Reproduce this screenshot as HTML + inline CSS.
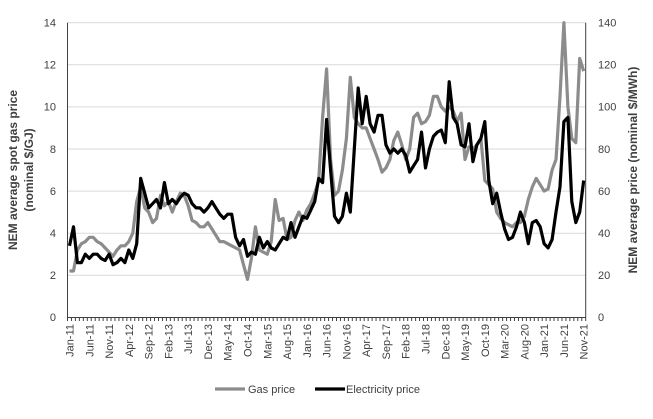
<!DOCTYPE html>
<html><head><style>
body{margin:0;background:#fff}
svg text{font-family:"Liberation Sans",sans-serif;fill:#404040}
</style></head><body>
<svg id="c" width="653" height="414" xmlns="http://www.w3.org/2000/svg">
<g stroke="#d9d9d9" stroke-width="1">
<line x1="68" x2="586" y1="22.7" y2="22.7"/><line x1="68" x2="586" y1="64.8" y2="64.8"/>
<line x1="68" x2="586" y1="106.9" y2="106.9"/><line x1="68" x2="586" y1="149" y2="149"/>
<line x1="68" x2="586" y1="191.1" y2="191.1"/><line x1="68" x2="586" y1="233.2" y2="233.2"/>
<line x1="68" x2="586" y1="275.3" y2="275.3"/>
</g>
<g stroke="#404040" stroke-width="1">
<line x1="67.5" x2="67.5" y1="22.7" y2="317.5"/><line x1="585.7" x2="585.7" y1="22.7" y2="317.5"/>
<line x1="67.5" x2="585.7" y1="317.5" y2="317.5"/>
</g>
<g id="ticks" stroke="#404040" stroke-width="1"></g>
<g font-size="11" text-anchor="end">
<text x="56" y="26.5">14</text><text x="56" y="68.6">12</text><text x="56" y="110.7">10</text>
<text x="56" y="152.8">8</text><text x="56" y="194.9">6</text><text x="56" y="237">4</text>
<text x="56" y="279.1">2</text><text x="56" y="321.2">0</text>
</g>
<g font-size="11" text-anchor="start">
<text x="598" y="26.5">140</text><text x="598" y="68.6">120</text><text x="598" y="110.7">100</text>
<text x="598" y="152.8">80</text><text x="598" y="194.9">60</text><text x="598" y="237">40</text>
<text x="598" y="279.1">20</text><text x="598" y="321.2">0</text>
</g>
<g id="xl" font-size="11" text-anchor="end"></g>
<g font-size="12" font-weight="bold" text-anchor="middle">
<text transform="translate(17,170) rotate(-90)">NEM average spot gas price</text>
<text transform="translate(33,170) rotate(-90)">(nominal $/GJ)</text>
<text transform="translate(637,170) rotate(-90)">NEM average price (nominal $/MWh)</text>
</g>
<polyline id="gas" fill="none" stroke="#8c8c8c" stroke-width="3.2" stroke-linejoin="round"/>
<polyline id="el" fill="none" stroke="#000" stroke-width="3.2" stroke-linejoin="round"/>
<line x1="215" x2="245" y1="389" y2="389" stroke="#8c8c8c" stroke-width="3.2"/>
<text x="248" y="393" font-size="11">Gas price</text>
<line x1="315" x2="345" y1="389" y2="389" stroke="#000" stroke-width="3.2"/>
<text x="346" y="393" font-size="11">Electricity price</text>
</svg>
<script>
var gas=[2.2,2.2,3.2,3.5,3.6,3.8,3.8,3.6,3.5,3.3,3.1,2.9,3.2,3.4,3.4,3.6,4.0,5.5,6.2,5.2,5.0,4.5,4.7,5.8,5.3,5.5,5.0,5.5,5.9,5.8,5.3,4.6,4.5,4.3,4.3,4.5,4.2,3.9,3.6,3.6,3.5,3.4,3.3,3.2,2.5,1.8,2.8,4.3,3.2,3.1,3.0,3.6,5.6,4.6,4.7,3.7,3.8,4.6,5.0,4.6,5.1,5.4,5.9,6.5,9.5,11.8,7.5,5.8,6.0,7.0,8.5,11.4,9.5,9.2,9.0,9.0,8.5,8.0,7.5,6.9,7.1,7.5,8.4,8.8,8.2,7.5,8.0,9.5,9.7,9.2,9.3,9.6,10.5,10.5,10.0,9.8,10.0,9.8,9.3,9.7,7.5,8.1,8.0,8.2,8.5,6.5,6.3,6.1,5.0,4.7,4.5,4.4,4.3,4.5,4.5,4.8,5.6,6.2,6.6,6.3,6.0,6.1,7.0,7.5,10.5,14,10,8.5,8.3,12.3,11.7];
var el=[3.4,4.3,2.6,2.6,3.0,2.8,3.0,3.0,2.8,2.7,3.0,2.5,2.6,2.8,2.6,3.2,2.8,3.5,6.6,5.9,5.2,5.4,5.6,5.2,6.4,5.4,5.6,5.4,5.7,5.9,5.8,5.4,5.2,5.2,5.0,5.2,5.5,5.2,4.9,4.7,4.9,4.9,3.8,3.4,3.7,2.9,3.1,3.0,3.8,3.3,3.6,3.3,3.2,3.5,3.8,3.7,4.5,3.8,4.3,4.8,4.7,5.1,5.5,6.6,6.4,9.4,7.0,4.8,4.5,4.8,5.9,5.0,8.0,10.9,9.2,10.5,9.2,8.8,9.6,9.6,8.2,7.8,8.0,7.8,8.0,7.7,6.9,7.2,7.5,8.8,7.1,8.0,8.6,8.8,8.9,8.3,11.2,9.5,9.2,8.2,8.1,9.2,7.4,8.2,8.5,9.3,6.5,5.4,5.9,5.0,4.2,3.7,3.8,4.3,5.0,4.5,3.5,4.5,4.6,4.3,3.5,3.3,3.7,5.0,6.2,9.3,9.5,5.5,4.5,5.0,6.5];
function pts(a){var n=a.length,s=[];for(var i=0;i<n;i++){var x=69.5+i*(583.7-69.5)/(n-1);var y=317.3-a[i]*21.04;s.push(x.toFixed(1)+","+y.toFixed(1));}return s.join(" ");}
document.getElementById("gas").setAttribute("points",pts(gas));
document.getElementById("el").setAttribute("points",pts(el));
var ns="http://www.w3.org/2000/svg",t=document.getElementById("ticks"),xl=document.getElementById("xl");
var w=(585.7-67.5)/131;
for(var i=0;i<=131;i++){var x=67.5+i*w;var l=document.createElementNS(ns,"line");l.setAttribute("x1",x);l.setAttribute("x2",x);l.setAttribute("y1",317.5);l.setAttribute("y2",321);t.appendChild(l);}
var mon=["Jan","Feb","Mar","Apr","May","Jun","Jul","Aug","Sep","Oct","Nov","Dec"];
for(var i=0;i<=130;i+=5){var m=i%12,yr=11+Math.floor(i/12);var x=69.5+i*(583.7-69.5)/130+4;var tx=document.createElementNS(ns,"text");tx.setAttribute("transform","translate("+x.toFixed(1)+",324) rotate(-90)");tx.textContent=mon[m]+"-"+yr;xl.appendChild(tx);}
</script>
</body></html>
